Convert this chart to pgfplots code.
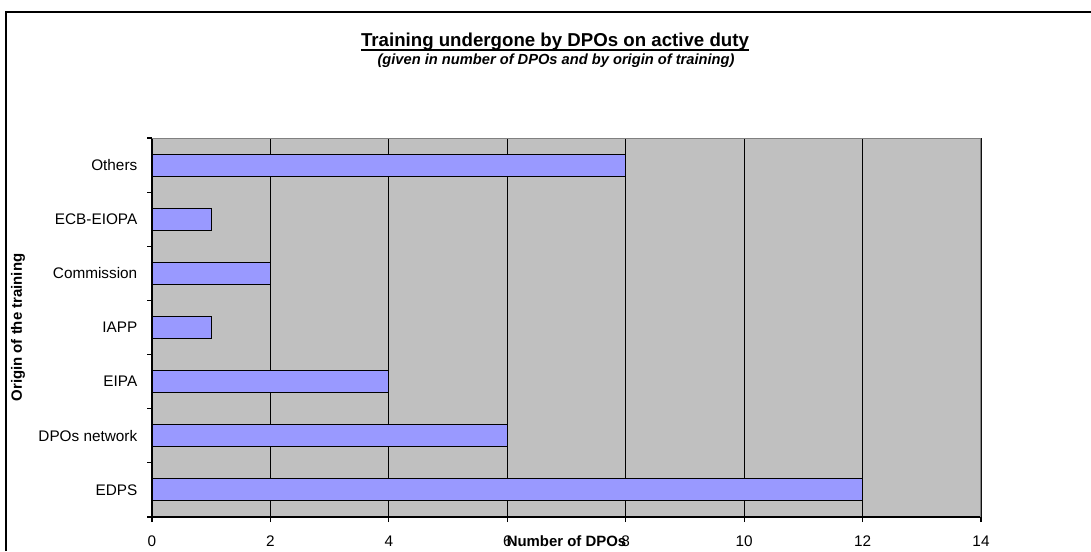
\documentclass[border=0pt]{standalone}
\usepackage{pgfplots}
\pgfplotsset{compat=1.18}
\usepackage{fontspec}
\setmainfont{Liberation Sans}
\definecolor{barblue}{HTML}{9999FF}
\definecolor{plotgray}{HTML}{C0C0C0}
\definecolor{edgegray}{HTML}{808080}
\begin{document}
\begin{tikzpicture}
% page is 1091 x 551 px, 1 px = 0.75pt
\useasboundingbox (0,0) rectangle (818.25pt,413.25pt);
\draw[line width=1.3pt] (4.5pt,0) -- (4.5pt,404.25pt) -- (818.25pt,404.25pt);
\node[anchor=base, inner sep=0pt, font=\fontsize{14}{16}\selectfont\bfseries] (t) at (416.25pt,378pt)
  {Training undergone by DPOs on active duty};
\draw[line width=1.1pt] ([yshift=-2.2pt]t.base west) -- ([yshift=-2.2pt]t.base east);
\node[anchor=base, font=\fontsize{11}{13}\selectfont\bfseries\itshape] at (417pt,364.5pt)
  {(given in number of DPOs and by origin of training)};
\begin{axis}[
  at={(114pt,25.5pt)}, anchor=south west,
  scale only axis, width=621.75pt, height=284.25pt,
  xmin=0, xmax=14, ymin=-0.5, ymax=6.5,
  xtick={0,2,...,14},
  ytick={0,...,6},
  yticklabels={EDPS, DPOs network, EIPA, IAPP, Commission, ECB-EIOPA, Others},
  minor ytick={-0.5,0.5,...,6.5},
  axis x line=bottom, axis y line=left, axis line style={-, black, line width=0.8pt},
  tick align=outside,
  major tick length=3.75pt, minor tick length=3.75pt,
  major y tick style={draw=none},
  tick style={black, line width=0.8pt},
  xmajorgrids=true,
  grid style={black, line width=0.75pt},
  axis background/.style={fill=plotgray},
  /pgf/number format/assume math mode=true,
  tick label style={font=\fontsize{11.5}{13}\selectfont},
  xticklabel style={yshift=-6.75pt},
  yticklabel style={xshift=-3.75pt},
  xlabel={Number of DPOs},
  ylabel={Origin of the training},
  label style={font=\fontsize{11.2}{13}\selectfont\bfseries},
  xlabel style={at={(axis description cs:0.5,-0.0633)}, anchor=center},
  ylabel style={at={(axis description cs:-0.1616,0.5)}, anchor=center},
]
\addplot[xbar, fill=barblue, draw=black, line width=0.8pt, bar width=16.5pt]
  coordinates {(12,0) (6,1) (4,2) (1,3) (2,4) (1,5) (8,6)};
\draw[edgegray, line width=1.2pt] (rel axis cs:0,1) -- (rel axis cs:1,1) -- (rel axis cs:1,0);
\end{axis}
\end{tikzpicture}
\end{document}
